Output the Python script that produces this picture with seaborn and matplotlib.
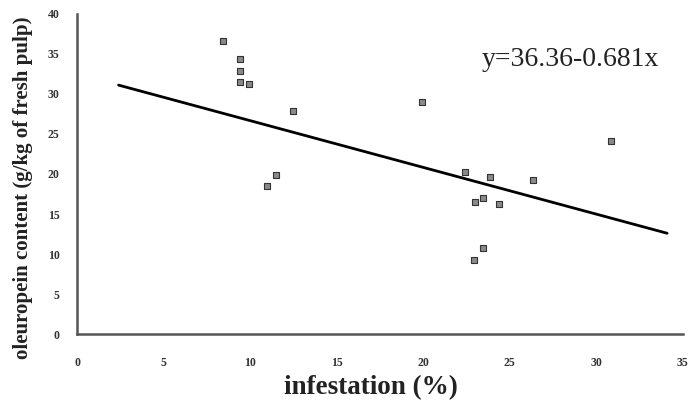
import matplotlib
matplotlib.use("Agg")
import matplotlib.pyplot as plt
import seaborn as sns
import pandas as pd

infestation = [8.44, 9.44, 9.44, 9.40, 9.94, 12.48, 11.48, 11.0,
               19.93, 30.87, 22.43, 23.87, 26.37, 22.98, 23.47, 24.4, 23.47, 22.97]
oleuropein = [36.6, 34.3, 32.9, 31.5, 31.2, 27.9, 19.9, 18.5,
              29.0, 24.1, 20.3, 19.6, 19.2, 16.5, 16.95, 16.25, 10.8, 9.25]
line_x = [2.4, 34.1]
line_y = [31.1, 12.6]
x_ticks = [0, 5, 10, 15, 20, 25, 30, 35]
y_ticks = [0, 5, 10, 15, 20, 25, 30, 35, 40]

sns.set_theme(style="white")
plt.rcParams['font.family'] = ['Liberation Serif', 'DejaVu Serif']

fig = plt.figure(figsize=(6.89, 4.07), dpi=100)
ax = fig.add_axes([0.1118, 0.179, 0.879, 0.787])

df = pd.DataFrame({"x": infestation, "y": oleuropein})
sns.scatterplot(data=df, x="x", y="y", marker="s", s=20, color="#8a8a8a",
                edgecolor="#333333", linewidth=0.8, ax=ax, zorder=3)
ldf = pd.DataFrame({"x": line_x, "y": line_y})
sns.lineplot(data=ldf, x="x", y="y", color="black", linewidth=2.0, ax=ax)

ax.set_xlim(0, 35)
ax.set_ylim(0, 40)
ax.set_xticks(x_ticks)
ax.set_yticks(y_ticks)
ax.set_xticklabels([str(t) for t in x_ticks], fontsize=8.5, fontweight="bold", color="#333333")
ax.set_yticklabels([str(t) for t in y_ticks], fontsize=8.5, fontweight="bold", color="#333333")
ax.tick_params(axis="x", direction="inout", length=7, width=1.3, color="#555555", pad=13)
ax.tick_params(axis="y", direction="inout", length=7, width=1.3, color="#555555", pad=9)
for s in ["top", "right"]:
    ax.spines[s].set_visible(False)
for s in ["left", "bottom"]:
    ax.spines[s].set_color("#555555")
    ax.spines[s].set_linewidth(1.8)

ax.set_xlabel("")
ax.set_ylabel("")
fig.text(371 / 689, 1 - 388 / 407, "infestation (%)", ha="center", va="center",
         fontsize=19.5, fontweight="bold", color="#222222")
fig.text(23 / 689, 1 - 188 / 407, "oleuropein content (g/kg of fresh pulp)", ha="center",
         va="center", rotation=90, fontsize=15, fontweight="bold", color="#222222")
fig.text(570 / 689, 1 - 60 / 407, "y=36.36-0.681x", ha="center", va="center",
         fontsize=20, color="#222222")

fig.savefig("out.png", dpi=100)
